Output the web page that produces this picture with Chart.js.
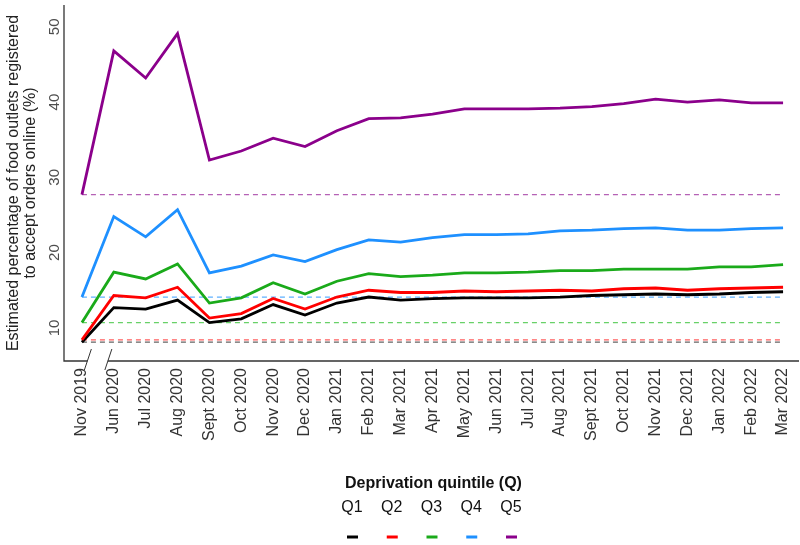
<!DOCTYPE html>
<html>
<head>
<meta charset="utf-8">
<script src="https://cdn.jsdelivr.net/npm/chart.js@4/dist/chart.umd.min.js"></script>
<style>
  html, body { margin: 0; padding: 0; background: #fff; }
  #wrap { width: 800px; height: 545px; }
</style>
</head>
<body>
<div id="wrap"><canvas id="myChart" width="800" height="545"></canvas></div>
<script>
// months on the x axis
const meses = ['Nov 2019', 'Jun 2020', 'Jul 2020', 'Aug 2020', 'Sept 2020', 'Oct 2020', 'Nov 2020', 'Dec 2020',
  'Jan 2021', 'Feb 2021', 'Mar 2021', 'Apr 2021', 'May 2021', 'Jun 2021', 'Jul 2021', 'Aug 2021', 'Sept 2021',
  'Oct 2021', 'Nov 2021', 'Dec 2021', 'Jan 2022', 'Feb 2022', 'Mar 2022'];

const q1 = [8.1, 12.7, 12.5, 13.7, 10.7, 11.2, 13.1, 11.7, 13.3, 14.1, 13.7, 13.9, 14.0, 14.0, 14.0, 14.1, 14.3, 14.4, 14.5, 14.4, 14.5, 14.7, 14.8];
const q2 = [8.4, 14.3, 14.0, 15.4, 11.3, 11.9, 13.9, 12.5, 14.1, 15.0, 14.7, 14.7, 14.9, 14.8, 14.9, 15.0, 14.9, 15.2, 15.3, 15.0, 15.2, 15.3, 15.4];
const q3 = [10.7, 17.4, 16.5, 18.5, 13.3, 14.0, 16.0, 14.5, 16.2, 17.2, 16.8, 17.0, 17.3, 17.3, 17.4, 17.6, 17.6, 17.8, 17.8, 17.8, 18.1, 18.1, 18.4];
const q4 = [14.1, 24.8, 22.1, 25.7, 17.3, 18.2, 19.7, 18.8, 20.4, 21.7, 21.4, 22.0, 22.4, 22.4, 22.5, 22.9, 23.0, 23.2, 23.3, 23.0, 23.0, 23.2, 23.3];
const q5 = [27.7, 46.8, 43.2, 49.1, 32.3, 33.5, 35.2, 34.1, 36.2, 37.8, 37.9, 38.4, 39.1, 39.1, 39.1, 39.2, 39.4, 39.8, 40.4, 40.0, 40.3, 39.9, 39.9];

const quintiles = ['Q1', 'Q2', 'Q3', 'Q4', 'Q5'];
const yTicks = [10, 20, 30, 40, 50];

const series = [q1, q2, q3, q4, q5];
const colores = ['#000000', '#ff0000', '#1aaa1a', '#1e90ff', '#8b008b'];
const coloresBase = ['rgba(60,60,60,0.8)', 'rgba(255,40,40,0.75)', 'rgba(40,190,40,0.7)', 'rgba(40,150,255,0.75)', 'rgba(150,30,150,0.7)'];

const FONT = '"Liberation Sans", Arial, sans-serif';

// lines first so they sit on top of the dashed baselines
const datasets = [];
series.forEach((s, i) => {
  datasets.push({
    label: quintiles[i],
    data: s,
    borderColor: colores[i],
    borderWidth: 2.8,
    pointRadius: 0,
    tension: 0,
    fill: false,
    order: 5 - i
  });
});
series.forEach((s, i) => {
  datasets.push({
    label: quintiles[i] + ' baseline',
    data: meses.map(() => s[0]),
    borderColor: coloresBase[i],
    borderWidth: 1.3,
    borderDash: [5, 4],
    pointRadius: 0,
    fill: false,
    order: 10 + i
  });
});

const decoraciones = {
  id: 'decoraciones',
  afterDraw(chart) {
    const ctx = chart.ctx;
    const a = chart.chartArea;
    const xs = chart.scales.x;
    const ys = chart.scales.y;
    const axisX = a.left - 2;
    const b = a.bottom;
    ctx.save();

    // y tick labels (rotated)
    ctx.fillStyle = '#4d4d4d';
    ctx.font = '15px ' + FONT;
    ctx.textAlign = 'center';
    ctx.textBaseline = 'middle';
    yTicks.forEach(v => {
      ctx.save();
      ctx.translate(55, ys.getPixelForValue(v));
      ctx.rotate(-Math.PI / 2);
      ctx.fillText(String(v), 0, 0);
      ctx.restore();
    });

    // y axis title
    ctx.fillStyle = '#222';
    ctx.font = '16px ' + FONT;
    const cy = (a.top + b) / 2;
    ctx.save();
    ctx.translate(14, cy);
    ctx.rotate(-Math.PI / 2);
    ctx.fillText('Estimated percentage of food outlets registered', 0, 0);
    ctx.fillText('to accept orders online (%)', 0, 17);
    ctx.restore();

    // axes with break between first two months
    const mid = (xs.getPixelForValue(0) + xs.getPixelForValue(1)) / 2;
    const s1 = mid - 10.5, s2 = mid + 10;
    ctx.strokeStyle = '#333';
    ctx.lineWidth = 1.3;
    ctx.beginPath();
    ctx.moveTo(axisX, a.top);
    ctx.lineTo(axisX, b);
    ctx.lineTo(s1, b);
    ctx.moveTo(s2, b);
    ctx.lineTo(a.right, b);
    ctx.stroke();
    ctx.lineWidth = 1;
    [s1, s2].forEach(sx => {
      ctx.beginPath();
      ctx.moveTo(sx + 4, b - 12);
      ctx.lineTo(sx - 3, b + 9);
      ctx.stroke();
    });

    // legend
    const cx = (axisX + a.right) / 2;
    ctx.fillStyle = '#111';
    ctx.font = 'bold 16px ' + FONT;
    ctx.fillText('Deprivation quintile (Q)', cx + 2, 484);
    ctx.font = '16px ' + FONT;
    quintiles.forEach((q, i) => {
      const lx = cx + (i - 2) * 39.75;
      ctx.fillStyle = '#111';
      ctx.fillText(q, lx, 508);
      ctx.strokeStyle = colores[i];
      ctx.lineWidth = 3;
      ctx.beginPath();
      ctx.moveTo(lx - 5, 537);
      ctx.lineTo(lx + 6, 537);
      ctx.stroke();
    });
    ctx.restore();
  }
};

const ctx = document.getElementById('myChart').getContext('2d');
new Chart(ctx, {
  type: 'line',
  data: { labels: meses, datasets: datasets },
  options: {
    responsive: false,
    animation: false,
    layout: { padding: { top: 5, right: 1, left: 0, bottom: 0 } },
    plugins: { legend: { display: false }, tooltip: { enabled: false } },
    scales: {
      x: {
        offset: true,
        grid: { display: false, drawTicks: false },
        border: { display: false },
        ticks: {
          autoSkip: false,
          minRotation: 90,
          maxRotation: 90,
          padding: 7,
          color: '#333',
          font: { family: FONT, size: 16 }
        },
        afterFit: function(scale) {
          scale.height = 184;
          scale.paddingLeft = 0;
          scale.paddingRight = 0;
        }
      },
      y: {
        min: 5.6,
        max: 52.9,
        grid: { display: false, drawTicks: false },
        border: { display: false },
        ticks: { display: false },
        afterBuildTicks: function(scale) { scale.ticks = yTicks.map(v => ({ value: v })); },
        afterFit: function(scale) { scale.width = 66; }
      }
    }
  },
  plugins: [decoraciones]
});
</script>
</body>
</html>
